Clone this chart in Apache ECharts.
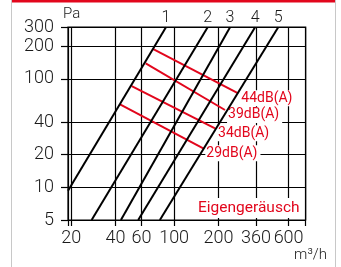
<!DOCTYPE html>
<html>
<head>
<meta charset="UTF-8">
<title>Kennlinien</title>
<script src="https://cdn.jsdelivr.net/npm/echarts@6/dist/echarts.min.js"></script>
<style>body{margin:0;background:#fff;}</style>
</head>
<body>
	<div id="container" style="width:341px;height:267px;"></div>
	<script type="text/javascript">
	// Volumenstrom m3/h (x) und Druck Pa (y), beide logarithmisch
	var xTicks = [20, 40, 60, 100, 200, 360, 600];
	var yTicks = [5, 10, 20, 40, 100, 200, 300];
	var xRange = [19, 784];
	var yRange = [5, 300];

	// Kennlinien 1-5: Anfangs- und Endpunkt [m3/h, Pa]
	var lineNames = ['1', '2', '3', '4', '5'];
	var line1 = [[19, 9.3], [88, 300]];
	var line2 = [[27.5, 5], [169, 300]];
	var line3 = [[43.5, 5], [240, 300]];
	var line4 = [[57, 5], [355, 300]];
	var line5 = [[80, 5], [510, 300]];

	// Schallpegel-Linien (rot)
	var dbNames = ['44dB(A)', '39dB(A)', '34dB(A)', '29dB(A)'];
	var db44 = [[72.2, 188.7], [272.9, 73.6]];
	var db39 = [[64.1, 139.3], [221.7, 51.7]];
	var db34 = [[51.5, 86.0], [189.6, 35.0]];
	var db29 = [[42.9, 58.3], [157.8, 22.9]];

	var RED = '#e2061c';
	var FONT = 'Roboto';
	var lg = function (v) { return Math.log10(v); };
	var toLog = function (pts) { return pts.map(function (p) { return [lg(p[0]), lg(p[1])]; }); };

	var series = [];
	[line1, line2, line3, line4, line5].forEach(function (pts, i) {
		var d = toLog(pts);
		series.push({
			type: 'line',
			clip: false,
			symbol: 'circle',
			symbolSize: 0.1,
			showSymbol: true,
			silent: true,
			z: 3,
			lineStyle: { color: '#000', width: 2 },
			itemStyle: { color: '#000' },
			data: [
				{ value: d[0] },
				{ value: d[1], label: { show: true, position: 'top', distance: 1, formatter: lineNames[i],
					color: '#1a1a1a', fontSize: 16, fontFamily: FONT, fontWeight: 300 } }
			]
		});
	});
	[db44, db39, db34, db29].forEach(function (pts, i) {
		var d = toLog(pts);
		series.push({
			type: 'line',
			clip: false,
			symbol: 'circle',
			symbolSize: 0.1,
			showSymbol: true,
			silent: true,
			z: 2,
			lineStyle: { color: RED, width: 2 },
			itemStyle: { color: RED },
			data: [
				{ value: d[0] },
				{ value: d[1], label: { show: true, position: 'right', distance: 2, offset: [0, 5],
					formatter: dbNames[i], color: RED, fontSize: 14, fontFamily: FONT,
					backgroundColor: '#fff', padding: [1, 3, 1, 1] } }
			]
		});
	});

	var xTickVals = [lg(xRange[0])].concat(xTicks.map(lg), [lg(xRange[1])]);
	var yTickVals = yTicks.map(lg);
	var gridLine = { color: '#000', width: 1.2 };

	var dom = document.getElementById("container");
	var myChart = echarts.init(dom);
	var option = {
		animation: false,
		grid: { left: 68, right: 35.3, top: 27.2, bottom: 47, show: true,
			borderColor: '#000', borderWidth: 1.2, outerBoundsMode: 'none' },
		xAxis: {
			type: 'value',
			min: lg(xRange[0]),
			max: lg(xRange[1]),
			axisLine: { show: false },
			axisTick: { show: true, length: 6, customValues: xTickVals, lineStyle: gridLine },
			axisLabel: { customValues: xTicks.map(lg), margin: 9, fontSize: 18, color: '#1a1a1a',
				fontFamily: FONT, fontWeight: 300,
				formatter: function (v) { return String(Math.round(Math.pow(10, v))); } },
			splitLine: { show: true, lineStyle: gridLine }
		},
		yAxis: {
			type: 'value',
			min: lg(yRange[0]),
			max: lg(yRange[1]),
			axisLine: { show: false },
			axisTick: { show: true, length: 7, customValues: yTickVals, lineStyle: gridLine },
			axisLabel: { customValues: yTickVals, margin: 14, fontSize: 18, color: '#1a1a1a',
				fontFamily: FONT, fontWeight: 300,
				formatter: function (v) { return String(Math.round(Math.pow(10, v))); } },
			splitLine: { show: true, lineStyle: gridLine }
		},
		title: [{
			text: 'Eigengeräusch',
			left: 195, top: 198,
			padding: [2, 3, 2, 3],
			backgroundColor: '#fff',
			textStyle: { color: RED, fontSize: 15.5, fontWeight: 'normal', fontFamily: FONT }
		}],
		graphic: [
			{ type: 'rect', shape: { x: 11, y: 0, width: 325, height: 2.5 }, style: { fill: RED } },
			{ type: 'line', shape: { x1: 11.5, y1: 0, x2: 11.5, y2: 267 }, style: { stroke: '#c8c8c8', lineWidth: 1 } },
			{ type: 'line', shape: { x1: 335.5, y1: 0, x2: 335.5, y2: 267 }, style: { stroke: '#c8c8c8', lineWidth: 1 } },
			{ type: 'text', left: 63, top: 7, style: { text: 'Pa', fontSize: 15, fill: '#1a1a1a', fontFamily: FONT, fontWeight: 300 } },
			{ type: 'text', right: 14, top: 248, style: { text: 'm³/h', fontSize: 15, fill: '#1a1a1a', fontFamily: FONT, fontWeight: 300 } }
		],
		series: series
	};
	myChart.setOption(option, true);
	</script>
</body>
</html>
